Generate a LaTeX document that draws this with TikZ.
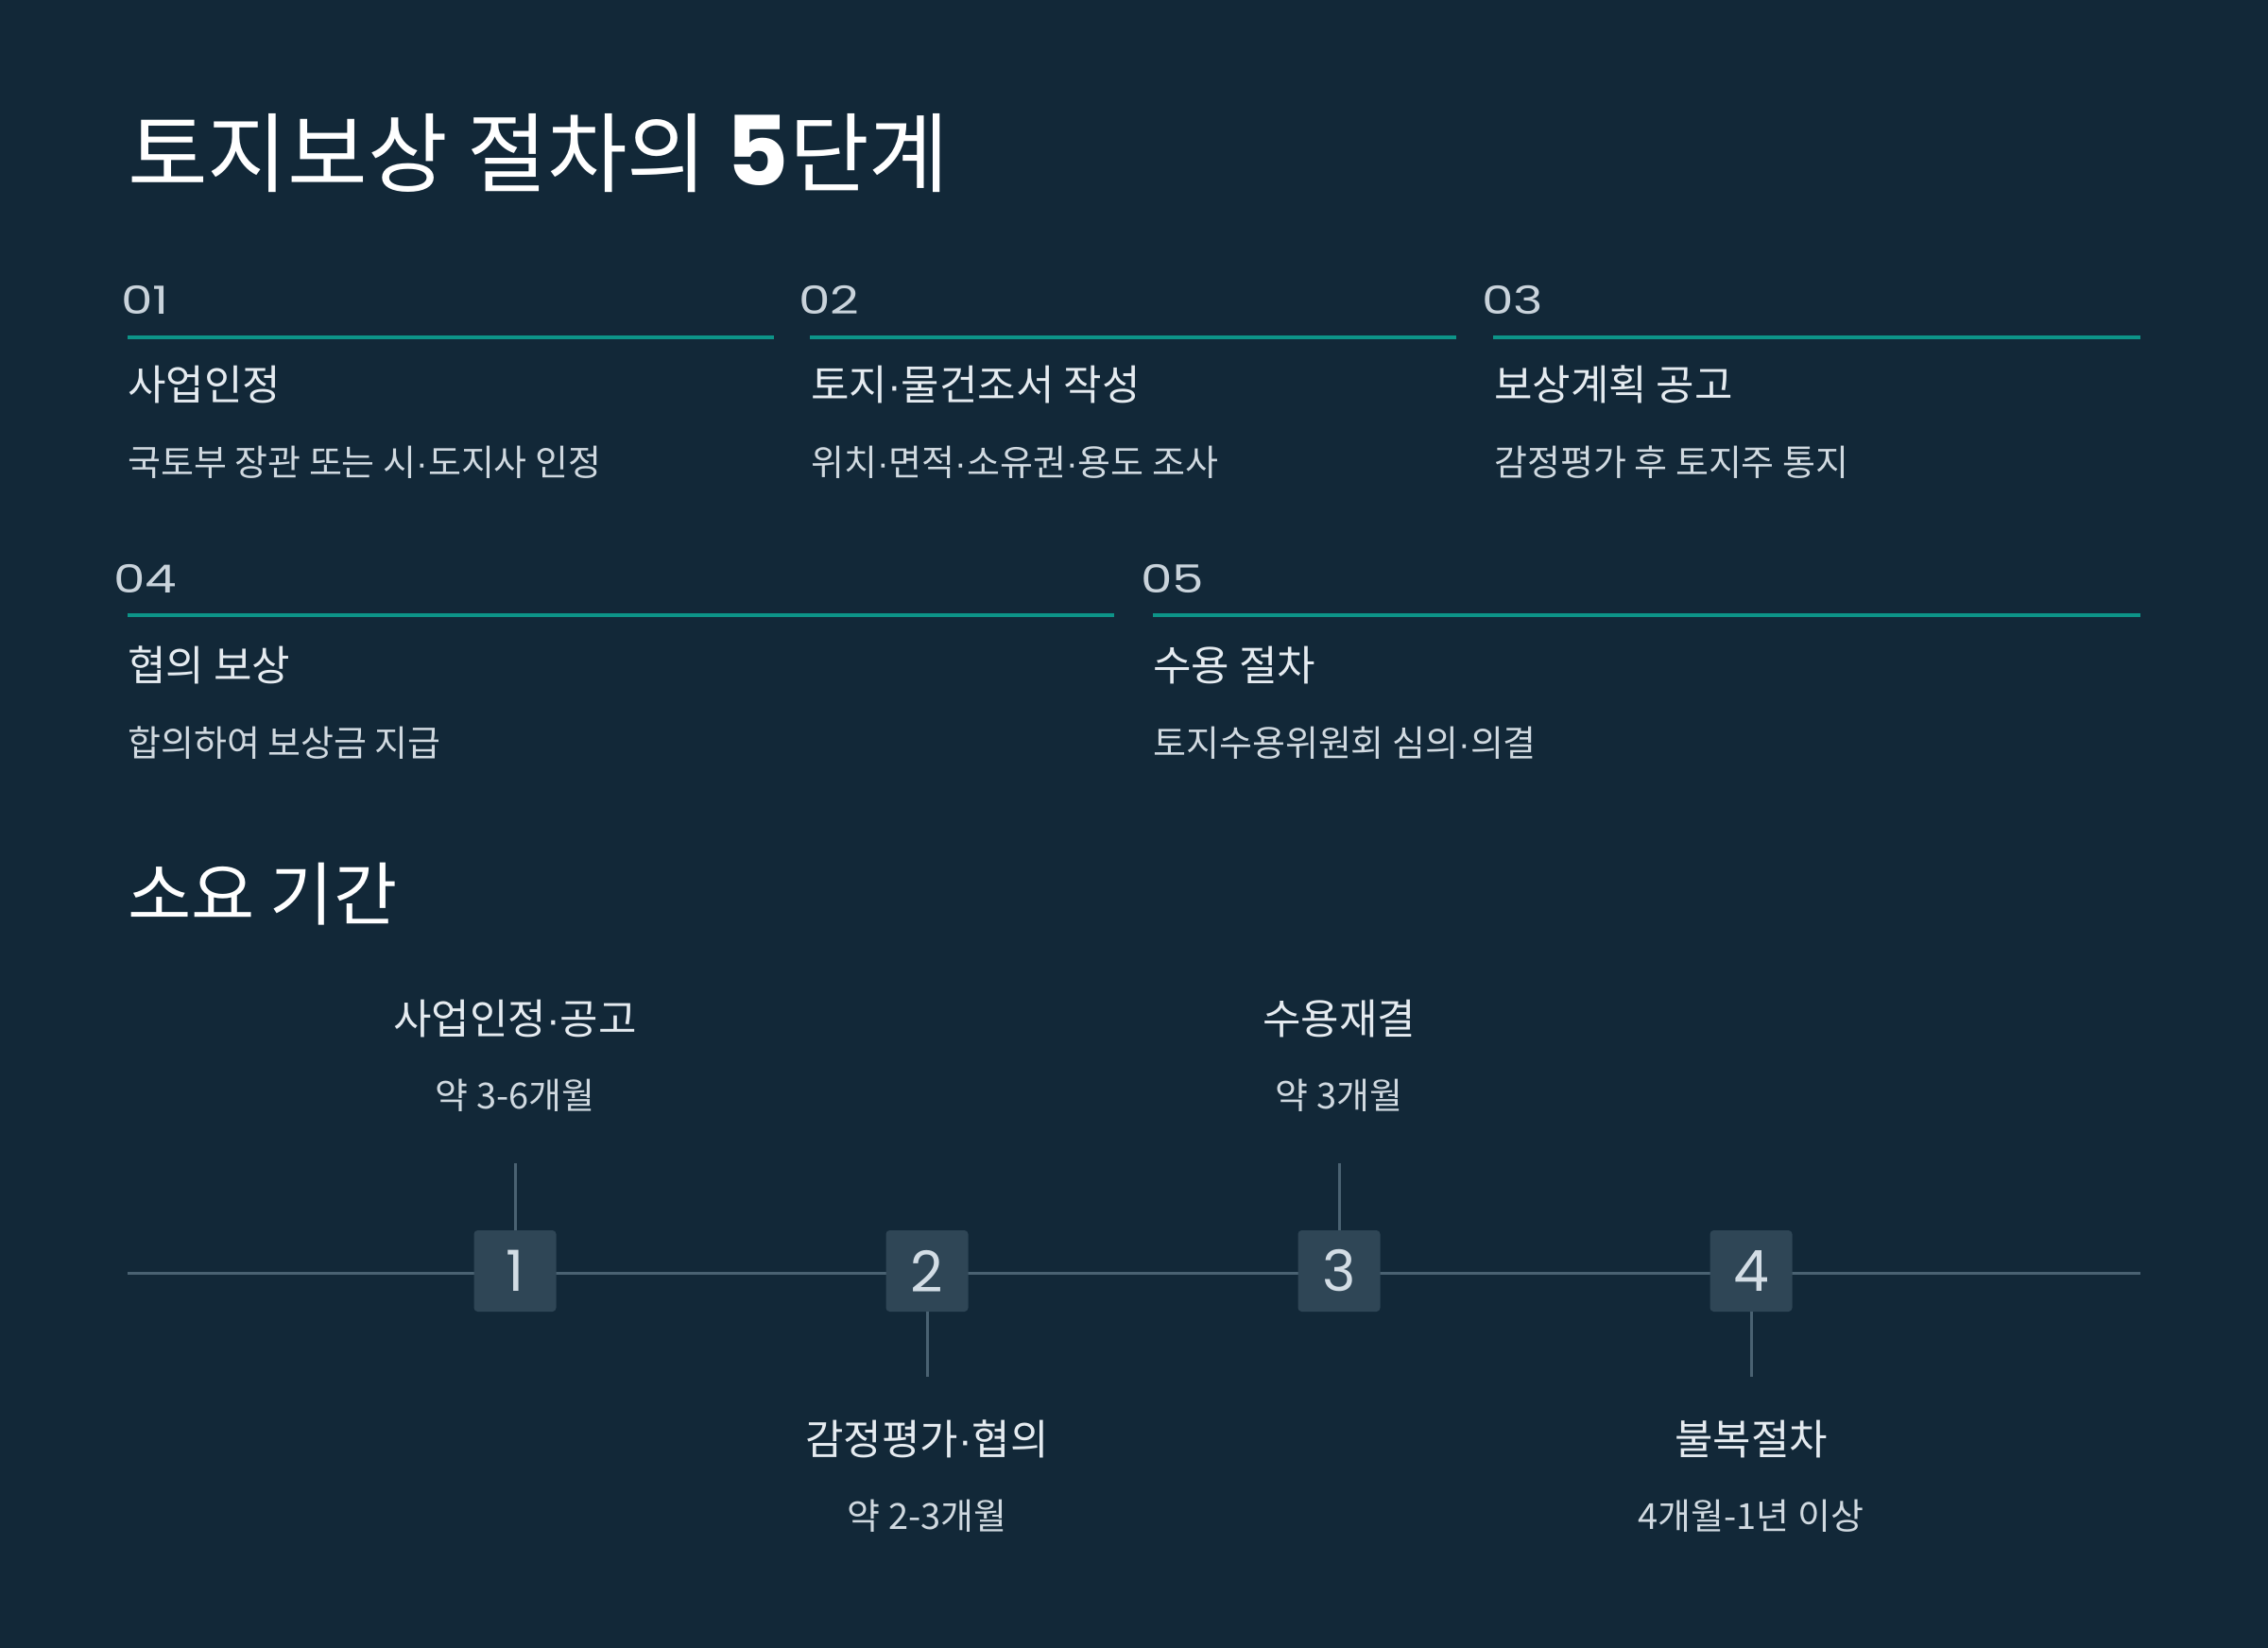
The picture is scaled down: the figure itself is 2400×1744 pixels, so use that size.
\documentclass[tikz,border=0pt]{standalone}
\usepackage{fontspec}
\setmainfont{Noto Sans CJK KR}
\newfontfamily\kr{Noto Sans CJK KR}
\newfontfamily\pop{Poppins}
\newfontfamily\popw[FakeStretch=1.3]{Poppins}
\newfontfamily\lat{Liberation Sans}
\newcommand\mdot{{\lat ·}}
\definecolor{bgc}{HTML}{122838}
\definecolor{accent}{HTML}{0D9488}
\definecolor{slateline}{HTML}{4A6272}
\definecolor{boxfill}{HTML}{2F4656}
\definecolor{headc}{HTML}{E5EBF0}
\definecolor{descc}{HTML}{D0D9E0}
\definecolor{numc}{HTML}{C9D3DB}
\definecolor{boxnum}{HTML}{D3DDE5}
\tikzset{
  title/.style={anchor=west,inner sep=0pt,text=white,font=\kr\fontsize{92}{100}\selectfont},
  sectitle/.style={anchor=west,inner sep=0pt,text=white,font=\kr\fontsize{73}{80}\selectfont},
  stepnum/.style={anchor=west,inner sep=0pt,text=numc,font=\popw\fontsize{41}{48}\selectfont},
  stephead/.style={anchor=west,inner sep=0pt,text=headc,font=\kr\fontsize{44}{52}\selectfont},
  stepdesc/.style={anchor=west,inner sep=0pt,text=descc,font=\kr\fontsize{38}{44}\selectfont},
  accentline/.style={draw=accent,line width=3.5pt},
  tline/.style={draw=slateline,line width=3pt},
  tbox/.style={fill=boxfill,rounded corners=4pt,minimum width=87pt,minimum height=86pt,inner sep=0pt,text=boxnum,font=\pop\fontsize{60}{64}\selectfont},
  tlab/.style={inner sep=0pt,text=headc,font=\kr\fontsize{44}{52}\selectfont},
  tsub/.style={inner sep=0pt,text=descc,font=\kr\fontsize{38}{44}\selectfont},
}
\begin{document}
\begin{tikzpicture}[x=1pt,y=-1pt]
\fill[bgc] (0,0) rectangle (2400,1744);
\useasboundingbox (0,0) rectangle (2400,1744);
% title
\node[title] (ttl) at (135,162) {토지보상 절차의 {\pop\bfseries\fontsize{102}{110}\selectfont 5}단계};
% row 1
\node[stepnum] (n1) at (128,317) {01};
\node[stepnum] (n2) at (845,317) {02};
\node[stepnum] (n3) at (1568,317) {03};
\coordinate (a1) at (135,357); \coordinate (b1) at (819,357);
\coordinate (a2) at (857,357); \coordinate (b2) at (1541,357);
\coordinate (a3) at (1580,357); \coordinate (b3) at (2265,357);
\draw[accentline] (a1) -- (b1);
\draw[accentline] (a2) -- (b2);
\draw[accentline] (a3) -- (b3);
\node[stephead] (h1) at (135,407) {사업인정};
\node[stephead] (h2) at (858,407) {토지\mdot 물건조서 작성};
\node[stephead] (h3) at (1581,407) {보상계획 공고};
\node[stepdesc] (d1) at (135,489) {국토부 장관 또는 시\mdot 도지사 인정};
\node[stepdesc] (d2) at (858,489) {위치\mdot 면적\mdot 소유권\mdot 용도 조사};
\node[stepdesc] (d3) at (1581,489) {감정평가 후 토지주 통지};
% row 2
\node[stepnum] (n4) at (120,612) {04};
\node[stepnum] (n5) at (1207,612) {05};
\coordinate (a4) at (135,651); \coordinate (b4) at (1179,651);
\coordinate (a5) at (1220,651); \coordinate (b5) at (2265,651);
\draw[accentline] (a4) -- (b4);
\draw[accentline] (a5) -- (b5);
\node[stephead] (h4) at (135,704) {협의 보상};
\node[stephead] (h5) at (1220,704) {수용 절차};
\node[stepdesc] (d4) at (135,786) {합의하여 보상금 지급};
\node[stepdesc] (d5) at (1220,786) {토지수용위원회 심의\mdot 의결};
% section title
\node[sectitle] (sec) at (135,946) {소요 기간};
% timeline
\coordinate (tl) at (135,1347); \coordinate (tr) at (2265,1347);
\draw[tline] (tl) -- (tr);
\node[tbox] (t1) at (545,1345) {1};
\node[tbox] (t2) at (981,1345) {2};
\node[tbox] (t3) at (1417,1345) {3};
\node[tbox] (t4) at (1853,1345) {4};
\coordinate (s1) at (545,1231);
\coordinate (s2) at (981,1457);
\coordinate (s3) at (1417,1231);
\coordinate (s4) at (1853,1457);
\draw[tline] (s1) -- (t1.north);
\draw[tline] (t2.south) -- (s2);
\draw[tline] (s3) -- (t3.north);
\draw[tline] (t4.south) -- (s4);
\node[tlab] (L1) at (545,1078) {사업인정\mdot 공고};
\node[tsub] (S1) at (545,1159) {약 3-6개월};
\node[tlab] (L2) at (981,1523) {감정평가\mdot 협의};
\node[tsub] (S2) at (981,1604) {약 2-3개월};
\node[tlab] (L3) at (1417,1078) {수용재결};
\node[tsub] (S3) at (1417,1159) {약 3개월};
\node[tlab] (L4) at (1853,1523) {불복절차};
\node[tsub] (S4) at (1853,1604) {4개월-1년 이상};
\end{tikzpicture}
\end{document}
